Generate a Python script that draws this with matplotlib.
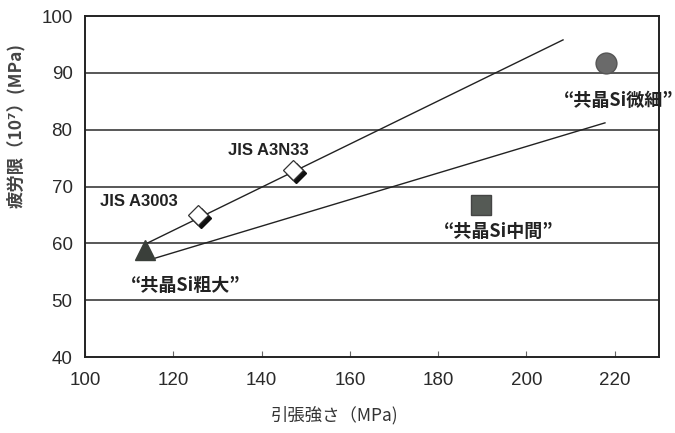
import matplotlib
matplotlib.use("Agg")
import matplotlib.pyplot as plt
import matplotlib.transforms as mtransforms

plt.rcParams['font.family'] = ['Liberation Sans', 'Noto Sans CJK JP', 'DejaVu Sans']

# data
diamond_names = ["JIS A3003", "JIS A3N33"]
diamond_x = [125.6, 147.1]
diamond_y = [65.0, 72.9]

tri_x = [113.6]
tri_y = [58.8]
circle_x = [218.0]
circle_y = [91.7]
square_x = [189.7]
square_y = [66.7]

upper_line_x = [114.0, 208.3]
upper_line_y = [60.0, 95.8]
lower_line_x = [115.9, 217.8]
lower_line_y = [57.4, 81.2]

xticks = [100, 120, 140, 160, 180, 200, 220]
yticks = [40, 50, 60, 70, 80, 90, 100]

fig = plt.figure(figsize=(6.75, 4.33), dpi=100)
ax = fig.add_axes([0.126, 0.1755, 0.850, 0.7875])
ax.set_xlim(100, 230)
ax.set_ylim(40, 100)

for y in yticks[1:-1]:
    ax.axhline(y, color='#4a4a4a', lw=1.3, zorder=1)

ax.plot(upper_line_x, upper_line_y, color='#222222', lw=1.0, zorder=2)
ax.plot(lower_line_x, lower_line_y, color='#222222', lw=1.0, zorder=2)

shadow = mtransforms.offset_copy(ax.transData, fig=fig, x=2.4, y=-2.4, units='points')
ax.plot(diamond_x, diamond_y, ls='none', marker='D', ms=10.5, mfc='#111111', mec='#111111',
        transform=shadow, zorder=3)
ax.plot(diamond_x, diamond_y, ls='none', marker='D', ms=10.5, mfc='white', mec='#333333',
        mew=0.9, zorder=4)

ax.plot(tri_x, tri_y, ls='none', marker='^', ms=15, mfc='#3a3f3a', mec='#3a3f3a', zorder=4)
ax.plot(circle_x, circle_y, ls='none', marker='o', ms=15, mfc='#6a6a6a', mec='#555555', zorder=4)
ax.plot(square_x, square_y, ls='none', marker='s', ms=14.5, mfc='#555a55', mec='#444444', zorder=4)

lab_kw = dict(fontsize=12, fontweight='bold', color='#222222', va='center')
ax.text(103.4, 67.3, diamond_names[0], ha='left', **lab_kw)
ax.text(132.4, 76.4, diamond_names[1], ha='left', **lab_kw)

jp_kw = dict(fontsize=13, fontweight='bold', color='#222222', va='center',
             family=['Noto Sans CJK JP', 'DejaVu Sans'])
ax.text(122.9, 52.6, "“共晶Si粗大”", ha='center', **jp_kw)
ax.text(193.8, 62.0, "“共晶Si中間”", ha='center', **jp_kw)
ax.text(208.5, 85.2, "“共晶Si微細”", ha='left', **jp_kw)

ax.set_xticks(xticks)
ax.set_yticks(yticks)
ax.tick_params(axis='x', direction='in', length=4, width=0.8, color='#666666',
               labelsize=13.5, labelcolor='#2a2a2a', pad=11)
ax.tick_params(axis='y', length=0, labelsize=13.5, labelcolor='#2a2a2a', pad=9)

for s in ax.spines.values():
    s.set_color('#222222')
    s.set_linewidth(1.4)

ax.set_xlabel("引張強さ（MPa)", family=['Noto Sans CJK JP', 'DejaVu Sans'],
              fontsize=12.5, color='#333333', labelpad=10)
ax.xaxis.set_label_coords(0.435, -0.145)
ax.set_ylabel("疲労限（10⁷）(MPa)", family=['Noto Sans CJK JP', 'DejaVu Sans'],
              fontsize=12.5, fontweight='bold', color='#444444')
ax.yaxis.set_label_coords(-0.105, 0.68)

fig.savefig("out.png", dpi=100)
